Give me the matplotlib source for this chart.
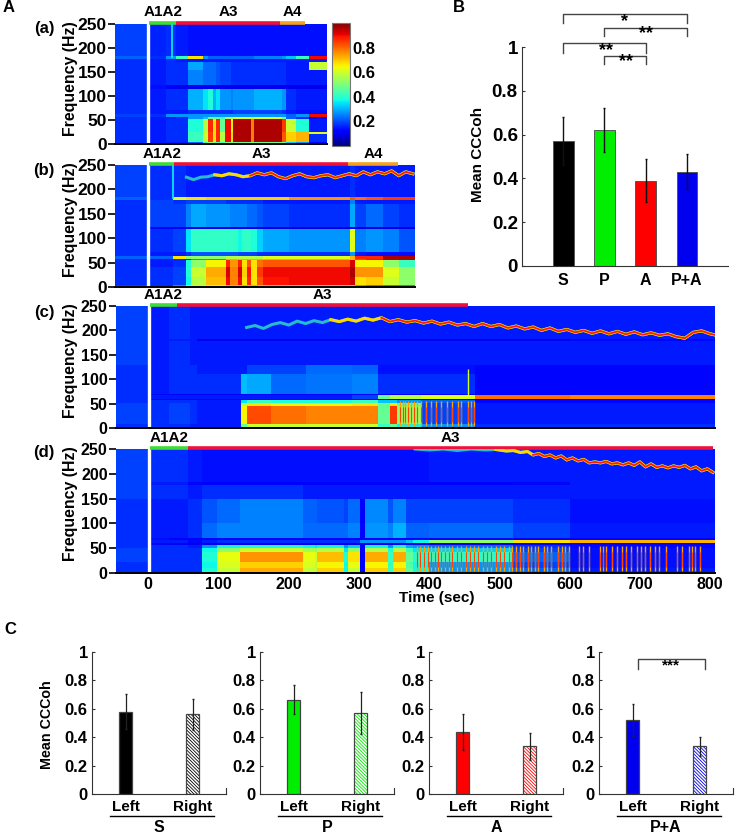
import matplotlib
matplotlib.use('Agg')
import matplotlib.pyplot as plt
from matplotlib.cm import ScalarMappable
from matplotlib.colors import Normalize
from matplotlib.transforms import blended_transform_factory

plt.rcParams['font.family'] = ['Liberation Sans', 'DejaVu Sans']
plt.rcParams['font.weight'] = 'bold'
plt.rcParams['hatch.linewidth'] = 0.6

W, H = 737, 836
cmap = plt.get_cmap('jet')
norm = Normalize(0, 1)
# the grid cells average out speckle, so they sit a touch lower on the scale
cell_norm = Normalize(0.03, 1.03)

a_t = [-46, 0, 26, 41, 57, 78, 85, 92, 97, 102, 109, 118, 121, 147, 150, 191, 196, 210, 229, 254]
a_f = [0, 5, 20, 24, 52, 57, 62, 70, 115, 122, 155, 170, 178, 184, 250]
a_cells = [
    [.2, .18, .18, .18, .25, .45, .55, .5, .45, .45, .5, .5, .5, .5, .5, .5, .35, .3, .15],
    [.2, .18, .2, .2, .45, .62, .88, .7, .9, .6, .93, .7, .99, .8, .99, .85, .72, .75, .2],
    [.2, .18, .2, .2, .45, .62, .88, .7, .9, .6, .93, .7, .99, .8, .99, .85, .72, .75, .65],
    [.2, .18, .2, .2, .42, .6, .9, .7, .9, .5, .93, .68, .99, .8, .99, .88, .62, .42, .18],
    [.2, .18, .18, .2, .3, .35, .5, .5, .5, .45, .6, .6, .65, .6, .65, .5, .25, .2, .15],
    [.22, .2, .3, .3, .3, .3, .3, .3, .3, .3, .3, .3, .3, .3, .3, .3, .25, .3, .93],
    [.2, .18, .18, .18, .2, .2, .2, .2, .2, .2, .2, .2, .22, .22, .22, .2, .18, .17, .17],
    [.2, .18, .2, .2, .33, .38, .42, .33, .38, .3, .3, .28, .3, .3, .33, .3, .2, .18, .18],
    [.2, .17, .14, .13, .13, .13, .13, .13, .13, .13, .13, .13, .13, .13, .13, .13, .13, .13, .13],
    [.2, .18, .2, .2, .28, .26, .26, .26, .24, .22, .22, .2, .2, .2, .2, .2, .18, .18, .18],
    [.2, .18, .2, .2, .32, .26, .26, .26, .24, .22, .22, .2, .2, .2, .2, .2, .18, .18, .62],
    [.2, .18, .2, .18, .18, .18, .18, .18, .18, .18, .18, .18, .18, .18, .18, .18, .18, .18, .18],
    [.25, .2, .3, .45, .7, .3, .25, .25, .25, .25, .25, .25, .25, .25, .28, .3, .35, .45, .93],
    [.22, .19, .2, .18, .17, .17, .17, .17, .17, .17, .17, .17, .17, .17, .17, .17, .17, .17, .17],
]
a_streak = [35]

# spectrogram (b)
b_t = [-46, 0, 36, 55, 62, 83, 111, 116, 128, 133, 140, 146, 154, 163, 200, 286, 293, 309, 333, 356, 378]
b_f = [0, 4, 20, 40, 55, 58, 64, 72, 118, 123, 170, 178, 184, 250]
b_cells = [
    [.22, .2, .3, .55, .62, .62, .4, .4, .4, .4, .4, .4, .4, .4, .4, .4, .35, .3, .3, .3],
    [.2, .2, .22, .4, .6, .74, .93, .8, .93, .7, .9, .7, .85, .92, .93, .96, .7, .72, .62, .55],
    [.2, .2, .22, .42, .62, .76, .95, .8, .95, .72, .92, .7, .88, .93, .93, .99, .78, .78, .65, .55],
    [.2, .18, .2, .42, .55, .68, .9, .78, .9, .7, .85, .7, .82, .85, .85, .95, .68, .68, .55, .45],
    [.2, .18, .2, .2, .3, .3, .4, .4, .4, .4, .4, .4, .4, .4, .4, .45, .3, .25, .2, .2],
    [.25, .25, .7, .55, .55, .55, .6, .6, .6, .6, .6, .6, .6, .65, .65, .75, .9, .9, .99, .99],
    [.2, .18, .18, .2, .24, .24, .24, .24, .22, .22, .22, .22, .2, .2, .2, .3, .18, .17, .17, .17],
    [.2, .2, .22, .38, .44, .44, .44, .44, .4, .44, .44, .42, .36, .32, .3, .65, .28, .3, .28, .24],
    [.2, .16, .14, .12, .12, .12, .12, .12, .12, .12, .12, .12, .12, .12, .12, .14, .12, .12, .12, .12],
    [.2, .22, .22, .28, .32, .3, .3, .28, .28, .28, .26, .26, .24, .22, .2, .32, .22, .26, .22, .2],
    [.2, .22, .2, .22, .22, .22, .2, .2, .2, .2, .2, .2, .2, .18, .18, .28, .18, .18, .18, .18],
    [.25, .2, .65, .7, .7, .72, .72, .72, .72, .72, .72, .72, .72, .72, .78, .85, .82, .85, .88, .88],
    [.22, .2, .2, .18, .18, .18, .18, .18, .18, .18, .18, .18, .18, .18, .18, .2, .18, .18, .18, .18],
]
b_streak = [36]
b_ridge_t = [55, 65, 75, 85, 95, 105, 115, 125, 135, 145, 155, 165, 175, 185, 195, 205, 215,
             225, 235, 245, 255, 265, 275, 285, 295, 305, 315, 325, 335, 345, 355, 365, 375]
b_ridge_f = [225, 220, 225, 226, 230, 228, 232, 230, 226, 228, 234, 230, 234, 226, 222, 228, 232,
             226, 224, 228, 230, 224, 228, 232, 228, 236, 230, 236, 232, 238, 228, 236, 232]

# spectrogram (c)
c_t = [-46, 0, 30, 60, 70, 132, 140, 175, 225, 290, 327, 344, 354, 388, 465, 600, 807]
c_f = [0, 3, 8, 45, 52, 57, 60, 67, 70, 110, 130, 178, 183, 250]
c_cells = [
    [.15, .12, .08, .08, .08, .08, .3, .3, .3, .3, .2, .2, .2, .15, .1, .1],
    [.2, .2, .2, .18, .18, .5, .62, .62, .62, .62, .45, .5, .4, .3, .2, .2],
    [.22, .2, .22, .2, .18, .68, .86, .82, .8, .8, .5, .88, .55, .22, .18, .18],
    [.22, .2, .22, .2, .18, .6, .7, .68, .68, .7, .5, .7, .5, .22, .18, .18],
    [.2, .2, .2, .2, .18, .38, .45, .42, .42, .45, .35, .35, .3, .25, .16, .16],
    [.2, .16, .14, .14, .14, .14, .14, .14, .14, .14, .14, .14, .14, .14, .14, .14],
    [.2, .18, .18, .18, .18, .18, .18, .18, .18, .22, .5, .6, .6, .65, .82, .8],
    [.2, .16, .15, .15, .15, .15, .15, .15, .15, .15, .15, .15, .15, .15, .15, .15],
    [.2, .18, .2, .2, .2, .34, .32, .26, .27, .28, .2, .2, .2, .2, .16, .16],
    [.2, .18, .2, .2, .18, .18, .22, .22, .26, .25, .17, .17, .17, .17, .16, .16],
    [.22, .18, .2, .18, .18, .18, .18, .18, .18, .18, .18, .18, .18, .18, .18, .18],
    [.22, .18, .18, .18, .13, .13, .13, .13, .13, .13, .13, .13, .13, .13, .13, .16],
    [.22, .18, .2, .18, .18, .18, .18, .18, .18, .18, .18, .18, .18, .18, .18, .18],
]
c_bursts = [358, 362, 366, 370, 374, 378, 382, 388, 396, 403, 410, 417.5, 425, 433, 441, 446, 455, 460, 463.5]
c_streak = [455]
c_ridge_t = [140, 152, 164, 176, 188, 200, 212, 224, 236, 248, 260, 272, 284, 296, 308, 320, 332, 344, 356,
             368, 380, 392, 404, 416, 428, 440, 452, 464, 476, 488, 500, 512, 524, 536, 548, 560, 572, 584,
             596, 608, 620, 632, 644, 656, 668, 680, 692, 704, 716, 728, 740, 752, 764, 776, 788, 800, 806]
c_ridge_f = [206, 210, 204, 212, 216, 211, 219, 214, 220, 216, 222, 218, 223, 219, 225, 221, 226, 218, 222,
             217, 220, 215, 219, 213, 217, 211, 214, 208, 214, 208, 212, 205, 209, 203, 207, 200, 205, 198,
             202, 196, 200, 194, 199, 193, 198, 192, 197, 191, 195, 190, 193, 187, 184, 196, 199, 193, 191]

# spectrogram (d)
d_t = [-46, 0, 30, 57, 77, 98, 131, 221, 237, 240, 278, 285, 301, 309, 342, 349, 367, 377, 400, 520, 600, 807]
d_f = [0, 3, 10, 22, 42, 50, 56, 60, 66, 70, 100, 150, 178, 183, 250]
d_cells = [
    [.2, .12, .1, .1, .1, .1, .1, .1, .1, .1, .1, .1, .1, .1, .1, .1, .1, .1, .1, .1, .1],
    [.2, .2, .2, .2, .42, .62, .76, .62, .6, .72, .4, .62, .15, .72, .45, .72, .5, .4, .3, .25, .18],
    [.2, .2, .2, .2, .4, .64, .72, .64, .6, .68, .4, .66, .15, .68, .45, .68, .48, .4, .3, .22, .17],
    [.22, .2, .2, .2, .42, .66, .78, .66, .62, .74, .42, .7, .15, .76, .45, .76, .5, .42, .42, .25, .17],
    [.22, .2, .2, .2, .4, .55, .62, .58, .55, .6, .38, .55, .15, .6, .42, .6, .45, .38, .36, .22, .17],
    [.2, .2, .2, .18, .3, .4, .42, .4, .38, .4, .3, .36, .14, .4, .3, .4, .32, .3, .26, .2, .16],
    [.2, .16, .14, .13, .13, .13, .13, .13, .13, .13, .13, .13, .13, .13, .13, .13, .13, .13, .13, .14, .14],
    [.2, .18, .18, .16, .18, .2, .2, .2, .2, .2, .2, .2, .3, .3, .3, .3, .35, .4, .55, .7, .75],
    [.2, .17, .15, .14, .14, .14, .14, .14, .14, .14, .14, .14, .14, .14, .14, .14, .14, .14, .14, .14, .14],
    [.2, .18, .18, .2, .26, .28, .28, .26, .26, .26, .26, .28, .16, .3, .28, .33, .25, .25, .26, .22, .18],
    [.2, .18, .18, .2, .24, .26, .28, .25, .25, .24, .22, .26, .15, .29, .24, .28, .22, .22, .22, .2, .17],
    [.22, .2, .2, .18, .2, .2, .2, .18, .18, .18, .18, .18, .18, .18, .18, .18, .18, .18, .18, .18, .18],
    [.22, .18, .18, .16, .14, .14, .14, .14, .14, .14, .14, .14, .14, .14, .14, .14, .14, .14, .15, .16, .18],
    [.22, .2, .2, .18, .17, .17, .17, .17, .17, .17, .17, .17, .17, .17, .17, .17, .17, .17, .18, .18, .18],
]
d_bursts = [382, 387, 393, 398, 403, 408, 412, 417, 423, 428, 433, 440, 446, 452, 458, 464, 470, 476, 482, 488,
            495, 501, 507, 513, 518, 524, 529, 533, 540, 545, 551, 555, 563.5, 568, 574, 584, 589, 594, 599,
            613, 619, 627.5, 643, 647, 652, 660, 667, 674, 680.6, 687, 696, 702, 707, 714, 721, 727, 737,
            753, 760, 770, 774, 779, 786]
d_ridge_t = [380, 400, 420, 440, 460, 480, 495, 510, 520, 530, 540, 548, 556, 564, 572, 580, 588, 596, 604, 612,
             620, 628, 636, 644, 652, 660, 668, 676, 684, 692, 700, 708, 716, 724, 732, 740, 748, 756, 764, 772,
             780, 788, 796, 804]
d_ridge_f = [250, 248, 250, 247, 250, 248, 249, 246, 247, 243, 245, 238, 241, 235, 238, 232, 236, 228, 232, 226,
             229, 222, 224, 222, 225, 220, 222, 218, 222, 217, 224, 214, 220, 213, 216, 212, 216, 213, 217, 210,
             214, 206, 210, 203]

freq_ticks = [0, 50, 100, 150, 200, 250]
time_ticks = [0, 100, 200, 300, 400, 500, 600, 700, 800]

# stimulation phases above each spectrogram
a_phase_t = [2, 41, 188, 223]
b_phase_t = [2, 38, 284, 354]
c_phase_t = [2, 41, 455]
d_phase_t = [2, 57, 804]
phase_colors = ['#3fdc32', '#f0103c', '#f5a11e']

# panel B
b_names = ['S', 'P', 'A', 'P+A']
b_means = [0.57, 0.62, 0.39, 0.43]
b_errs = [0.11, 0.10, 0.10, 0.08]
b_colors = ['#000000', '#00ee00', '#ff0000', '#0000ee']

# panel C
c_names = ['S', 'P', 'A', 'P+A']
c_left = [0.58, 0.665, 0.435, 0.52]
c_right = [0.56, 0.57, 0.335, 0.335]
c_left_err = [0.125, 0.10, 0.125, 0.115]
c_right_err = [0.11, 0.145, 0.095, 0.065]
c_colors = ['#000000', '#00ee00', '#ff0000', '#0000ee']
y_ticks = [0, 0.2, 0.4, 0.6, 0.8, 1]
y_labels = ['0', '0.2', '0.4', '0.6', '0.8', '1']

fig = plt.figure(figsize=(W / 100, H / 100), dpi=100)


def px_axes(left, top, right, bottom):
    return fig.add_axes([left / W, 1 - bottom / H, (right - left) / W, (bottom - top) / H])


def px_text(x, y, s, **kw):
    kw.setdefault('ha', 'center')
    kw.setdefault('va', 'center')
    fig.text(x / W, 1 - y / H, s, **kw)


def draw_ridge(ax, t, f, warm, hot):
    ax.plot(t, f, color=cmap(0.42), lw=2.2, alpha=0.7, solid_joinstyle='round')
    ax.plot(t[warm:], f[warm:], color=cmap(0.68), lw=2.2)
    ax.plot(t[hot:], f[hot:], color=cmap(0.88), lw=1.3)


def spectrogram(box, t, f, cells, phases, label_y, tick_size):
    ax = px_axes(*box)
    ax.pcolormesh(t, f, cells, cmap=cmap, norm=cell_norm, shading='flat', rasterized=True)
    ax.axvline(1, color='white', lw=2.4)
    ax.set_xlim(t[0], t[-1])
    ax.set_ylim(0, 250)
    ax.set_yticks(freq_ticks)
    ax.tick_params(axis='y', length=5, width=1.2, pad=1, labelsize=tick_size)
    ax.set_xticks([])
    for side in ['top', 'right']:
        ax.spines[side].set_visible(False)
    ax.spines['left'].set_visible(False)
    ax.spines['bottom'].set_linewidth(1.4)

    # coloured phase bar sitting on the top edge, with labels above it
    tr = blended_transform_factory(ax.transData, ax.transAxes)
    names = ['A1A2', 'A3', 'A4']
    for i in range(len(phases) - 1):
        ax.plot(phases[i:i + 2], [1.012, 1.012], transform=tr, color=phase_colors[i], lw=2.6,
                solid_capstyle='butt', clip_on=False)
        ax.text((phases[i] + phases[i + 1]) / 2, label_y, names[i], transform=tr, ha='center', va='bottom',
                fontsize=11)
    return ax


# -------- panel A --------
ax_a = spectrogram((115, 24, 327, 144), a_t, a_f, a_cells, a_phase_t, 1.045, 12.5)
ax_a.vlines(a_streak, 180, 250, color=cmap(0.36), lw=1.2)

ax_b = spectrogram((115, 165, 415, 287), b_t, b_f, b_cells, b_phase_t, 1.035, 12.5)
ax_b.vlines(b_streak, 180, 250, color=cmap(0.36), lw=1.2)
draw_ridge(ax_b, b_ridge_t, b_ridge_f, 4, 9)

ax_c = spectrogram((116, 306, 715, 428), c_t, c_f, c_cells, c_phase_t, 1.035, 11.5)
ax_c.vlines(c_bursts, 5, 55, color=cmap(0.74), lw=1.0)
ax_c.vlines(c_bursts, 12, 44, color=cmap(0.88), lw=0.5)
ax_c.vlines(c_streak, 68, 120, color=cmap(0.6), lw=1.0)
draw_ridge(ax_c, c_ridge_t, c_ridge_f, 10, 16)

ax_d = spectrogram((116, 449, 715, 573), d_t, d_f, d_cells, d_phase_t, 1.035, 11.5)
ax_d.vlines(d_bursts, 5, 55, color=cmap(0.74), lw=1.0)
ax_d.vlines(d_bursts, 12, 42, color=cmap(0.88), lw=0.5)
draw_ridge(ax_d, d_ridge_t, d_ridge_f, 6, 11)
ax_d.set_xticks(time_ticks)
ax_d.tick_params(axis='x', length=0, pad=3, labelsize=11.5)

for y_mid, tag, y_tag in [(79, '(a)', 29), (220, '(b)', 171), (361, '(c)', 312), (504, '(d)', 453)]:
    px_text(70, y_mid, 'Frequency (Hz)', rotation=90, fontsize=11.4)
    px_text(44, y_tag, tag, fontsize=12)
px_text(437, 598, 'Time (sec)', fontsize=11)
px_text(9, 8, 'A', fontsize=12)
px_text(459, 7, 'B', fontsize=12)
px_text(10, 629, 'C', fontsize=12)

# colour scale next to (a)
cax = px_axes(332, 23, 350, 146)
cb = fig.colorbar(ScalarMappable(norm=norm, cmap=cmap), cax=cax)
cb.set_ticks([0.2, 0.4, 0.6, 0.8])
cb.ax.tick_params(length=0, pad=2, labelsize=12)
cb.outline.set_edgecolor('#777777')


def bracket(ax, x0, x1, top, low0, low1):
    ax.plot([x0, x0, x1, x1], [low0, top, top, low1], color='#444444', lw=1, clip_on=False)


def style_bar_axes(ax, tick_size):
    ax.set_ylim(0, 1)
    ax.set_yticks(y_ticks)
    ax.set_yticklabels(y_labels, fontsize=tick_size)
    ax.set_yticks([1], minor=True)
    ax.tick_params(axis='y', which='major', direction='in', length=2, color='#333333', pad=3)
    ax.tick_params(axis='y', which='minor', direction='in', length=4, color='#333333')
    ax.tick_params(axis='x', length=0)
    for side in ['top', 'right']:
        ax.spines[side].set_visible(False)
    for side in ['left', 'bottom']:
        ax.spines[side].set_color('#333333')


# -------- panel B --------
ax = px_axes(522, 47, 728, 266)
x_b = [1, 2, 3, 4]
ax.bar(x_b, b_means, width=0.5, color=b_colors, edgecolor='#555555', lw=0.7)
ax.errorbar(x_b, b_means, yerr=b_errs, fmt='none', ecolor='#111111', elinewidth=1, capsize=1)
ax.set_xlim(0, 5)
ax.set_xticks(x_b)
ax.set_xticklabels(b_names, fontsize=11.5)
style_bar_axes(ax, 13.5)
ax.tick_params(axis='x', pad=5)
px_text(478, 154, 'Mean CCCoh', rotation=90, fontsize=11)

bracket(ax, 1, 4, 1.151, 1.11, 1.11)
bracket(ax, 2, 4, 1.087, 1.05, 1.05)
bracket(ax, 1, 3, 1.018, 0.973, 0.973)
bracket(ax, 2, 3, 0.959, 0.922, 0.922)
for x_s, y_s, s in [(2.48, 1.118, '*'), (3.01, 1.06, '**'), (2.04, 0.982, '**'), (2.52, 0.932, '**')]:
    ax.text(x_s, y_s, s, ha='center', va='center', fontsize=13, clip_on=False)

# -------- panel C --------
for i, axis_x in enumerate([92, 260, 429, 599]):
    ax = px_axes(axis_x, 652, axis_x + 134, 794)
    col = c_colors[i]
    ax.bar(1, c_left[i], width=0.2, color=col, edgecolor='#444444', lw=0.9)
    ax.bar(2, c_right[i], width=0.2, facecolor='white', edgecolor=col, hatch='\\' * 10, lw=0)
    ax.bar(2, c_right[i], width=0.2, fill=False, edgecolor='#444444', lw=0.9)
    ax.errorbar([1, 2], [c_left[i], c_right[i]], yerr=[c_left_err[i], c_right_err[i]], fmt='none',
                ecolor='#222222', elinewidth=0.9, capsize=0.8)
    ax.set_xlim(0.5, 2.5)
    ax.set_xticks([1, 2])
    ax.set_xticklabels(['Left', 'Right'], fontsize=11)
    style_bar_axes(ax, 12)
    ax.tick_params(axis='x', pad=4)
    ax.axvline(2.5, ymax=0.04, color='#333333', lw=0.8, clip_on=False)

    fig.add_artist(plt.Line2D([(axis_x + 18) / W, (axis_x + 122) / W], [1 - 816 / H, 1 - 816 / H],
                              color='black', lw=1))
    px_text(axis_x + 67, 827, c_names[i], fontsize=11.5)
    if i == 3:
        bracket(ax, 1.08, 2.08, 0.95, 0.88, 0.88)
        ax.text(1.57, 0.905, '***', ha='center', va='center', fontsize=11)

px_text(47, 725, 'Mean CCCoh', rotation=90, fontsize=10.3)

fig.savefig('out.png', dpi=100)
